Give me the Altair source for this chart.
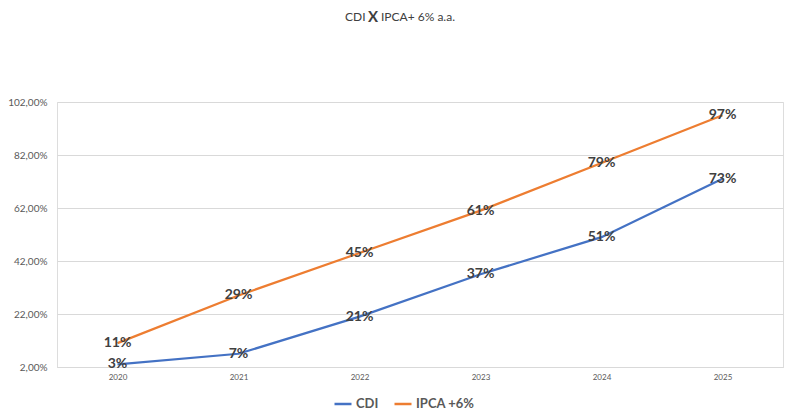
import altair as alt
import pandas as pd

years = ["2020", "2021", "2022", "2023", "2024", "2025"]
cdi = [3, 7, 21, 37, 51, 73]
ipca = [11, 29, 45, 61, 79, 97]
series_names = ["CDI", "IPCA +6%"]
colors = ["#4472C4", "#ED7D31"]
y_ticks = [2, 22, 42, 62, 82, 102]

rows = []
for name, vals in zip(series_names, [cdi, ipca]):
    for yr, v in zip(years, vals):
        rows.append({"ano": yr, "serie": name, "valor": v, "rotulo": f"{v}%"})
df = pd.DataFrame(rows)

FONT = "Lato"

x_enc = alt.X("ano:N", sort=years, title=None,
              scale=alt.Scale(paddingInner=0, paddingOuter=0.5),
              axis=alt.Axis(labelAngle=0, labelFontSize=8, labelColor="#595959",
                            labelFont=FONT, ticks=False, domain=True,
                            domainColor="#d9d9d9", labelPadding=6, grid=False))
y_enc = alt.Y("valor:Q", title=None,
              scale=alt.Scale(domain=[2, 102], nice=False, zero=False),
              axis=alt.Axis(values=y_ticks, labelFontSize=10, labelColor="#595959",
                            labelFont=FONT, ticks=False, domain=False,
                            labelPadding=10, gridColor="#d9d9d9",
                            labelExpr="replace(format(datum.value, '.2f'), '.', ',') + '%'"))

base = alt.Chart(df)

lines = base.mark_line(strokeWidth=2.25).encode(
    x=x_enc, y=y_enc,
    color=alt.Color("serie:N", scale=alt.Scale(domain=series_names, range=colors),
                    legend=alt.Legend(title=None, orient="none", direction="horizontal",
                                      legendX=276, legendY=292,
                                      symbolType="stroke", symbolSize=289,
                                      symbolStrokeWidth=2.5, labelFontSize=13,
                                      labelFontWeight="bold", labelColor="#595959",
                                      labelFont=FONT, columnPadding=10, labelOffset=3)),
)

labels = base.mark_text(fontSize=14, fontWeight="bold", color="#404040",
                        font=FONT, align="center", baseline="middle").encode(
    x=alt.X("ano:N", sort=years), y="valor:Q", text="rotulo:N")

title_df = pd.DataFrame({"t": ["x"]})
t1 = alt.Chart(title_df).mark_text(text="CDI", fontSize=12, font=FONT, color="#404040",
                                   align="left", baseline="middle").encode(
    x=alt.value(288), y=alt.value(-85))
t2 = alt.Chart(title_df).mark_text(text="X", fontSize=15, fontWeight="bold", font=FONT,
                                   color="#404040", align="left", baseline="middle").encode(
    x=alt.value(311), y=alt.value(-85))
t3 = alt.Chart(title_df).mark_text(text="IPCA+ 6% a.a.", fontSize=12, font=FONT,
                                   color="#404040", align="left", baseline="middle").encode(
    x=alt.value(324), y=alt.value(-85))

chart = alt.layer(lines, labels, t1, t2, t3).properties(
    width=726, height=265,
    autosize=alt.AutoSizeParams(type="none"),
    padding={"left": 49, "top": 94, "right": 5, "bottom": 45},
).configure_view(stroke=None).configure(background="white")

chart.save("out.html", embed_options={"renderer": "svg", "actions": False})
